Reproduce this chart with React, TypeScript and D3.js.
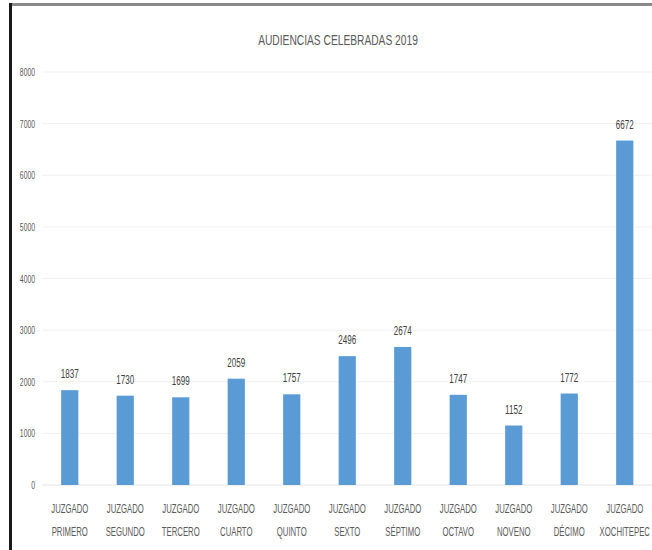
import React from "react";
import * as d3 from "d3";

const categoriesLine1 = ["JUZGADO","JUZGADO","JUZGADO","JUZGADO","JUZGADO","JUZGADO","JUZGADO","JUZGADO","JUZGADO","JUZGADO","JUZGADO"];
const categoriesLine2 = ["PRIMERO","SEGUNDO","TERCERO","CUARTO","QUINTO","SEXTO","SÉPTIMO","OCTAVO","NOVENO","DÉCIMO","XOCHITEPEC"];
const values = [1837, 1730, 1699, 2059, 1757, 2496, 2674, 1747, 1152, 1772, 6672];
const yTicks = [0, 1000, 2000, 3000, 4000, 5000, 6000, 7000, 8000];
const title = "AUDIENCIAS CELEBRADAS 2019";

const W = 652, H = 550;
const FONT = "'Liberation Sans', Arial, sans-serif";

function SText({ x, y, sx = 0.7, anchor = "middle", size, fill, weight = "normal", children }: any) {
  return (
    <text
      transform={`translate(${x},${y}) scale(${sx},1)`}
      textAnchor={anchor}
      fontSize={size}
      fill={fill}
      fontWeight={weight}
      fontFamily={FONT}
    >
      {children}
    </text>
  );
}

export default function App() {
  const keys = categoriesLine2;
  const x = d3.scaleBand<string>().domain(keys).range([42, 652.5]).paddingInner(0.69).paddingOuter(0.345);
  const y = d3.scaleLinear().domain([0, 8000]).range([485, 72]);
  return (
    <svg width={W} height={H} style={{ position: "absolute", left: 0, top: 0, background: "#fff" }}>
      <rect x={0} y={0} width={W} height={H} fill="#fff" />
      {yTicks.map((t) => (
        <line key={"g" + t} x1={42} x2={652} y1={y(t)} y2={y(t)} stroke={t === 0 ? "#e4e4e4" : "#f1f1f1"} strokeWidth={1} />
      ))}
      {yTicks.map((t) => (
        <SText key={"t" + t} x={35} y={y(t) + 4} anchor="end" sx={0.62} size={11} fill="#595959">{t}</SText>
      ))}
      {values.map((v, i) => {
        const k = keys[i];
        const bx = x(k)!;
        const cx = bx + x.bandwidth() / 2;
        return (
          <g key={k}>
            <rect x={bx} y={y(v)} width={x.bandwidth()} height={y(0) - y(v)} fill="#5B9BD5" />
            <SText x={cx} y={y(v) - 12} sx={0.62} size={13} fill="#404040">{v}</SText>
            <SText x={cx} y={513} sx={0.62} size={12.5} fill="#595959">{categoriesLine1[i]}</SText>
            <SText x={cx} y={536} sx={0.62} size={12.5} fill="#595959">{categoriesLine2[i]}</SText>
          </g>
        );
      })}
      <SText x={338} y={45} sx={0.66} size={15.5} fill="#595959">{title}</SText>
      <rect x={9} y={3} width={643} height={3} fill="#8a8a8a" />
      <rect x={9} y={3} width={3} height={547} fill="#1a1a1a" />
    </svg>
  );
}
